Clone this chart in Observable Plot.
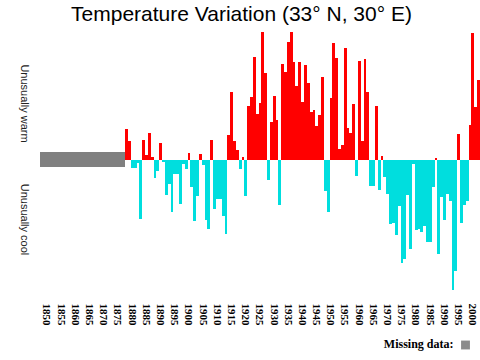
<!DOCTYPE html>
<html><head><meta charset="utf-8">
<script src="https://cdn.jsdelivr.net/npm/d3@7"></script>
<script src="https://cdn.jsdelivr.net/npm/@observablehq/plot@0.6"></script>
<style>html,body{margin:0;padding:0;background:#fff;} #chart svg{display:block;}</style>
</head><body><div id="chart"></div>
<script>
const title = "Temperature Variation (33° N, 30° E)";
const warmLabel = "Unusually warm";
const coolLabel = "Unusually cool";
const legendLabel = "Missing data:";

// Annual temperature anomaly, first value is 1880
const startYear = 1880;
const anomalies = [
  // 1880s
  0.31, 0.19, -0.08, -0.08, -0.03, -0.59, 0.20, 0.05, 0.27, 0.03,
  // 1890s
  -0.18, -0.11, 0.17, -0.02, -0.35, -0.24, -0.52, -0.14, -0.14, -0.44,
  // 1900s
  -0.04, -0.09, 0.07, -0.27, -0.61, -0.36, 0.06, -0.05, -0.60, -0.69,
  // 1910s
  0.20, -0.49, -0.39, -0.39, -0.56, -0.74, 0.25, 0.68, 0.19, 0.10,
  // 1920s
  -0.09, 0.03, -0.36, 0.54, 0.63, 1.03, 0.46, 0.57, 1.28, 0.87,
  // 1930s
  -0.20, 0.38, 0.64, 0.40, -0.45, 0.96, 0.88, 1.18, 1.28, 0.98,
  // 1940s
  0.74, 0.98, 0.58, 0.95, 0.77, 0.48, 0.50, 0.34, 0.45, 0.83,
  // 1950s
  -0.31, -0.52, 0.62, 1.17, 1.02, 0.11, 0.15, 1.12, 0.32, 0.27,
  // 1960s
  0.56, -0.16, 0.99, 0.19, 1.01, 0.68, -0.26, -0.26, 0.54, -0.30,
  // 1970s
  0.04, -0.17, -0.34, -0.64, -0.63, -0.75, -0.46, -1.03, -0.99, -0.35,
  // 1980s
  -0.89, -0.04, -0.70, -0.69, -0.72, -0.66, -0.82, -0.82, -0.27, 0.02,
  // 1990s
  -0.94, -0.37, -0.60, -0.34, -0.41, -1.30, -1.11, 0.26, -0.63, -0.45,
  // 2000s
  -0.41, 0.35, 1.27, 0.53, 0.80
];

const missingPeriod = [{from: 1850, to: 1880}];
const tickYears = [1850, 1855, 1860, 1865, 1870, 1875, 1880, 1885, 1890, 1895,
  1900, 1905, 1910, 1915, 1920, 1925, 1930, 1935, 1940, 1945, 1950, 1955,
  1960, 1965, 1970, 1975, 1980, 1985, 1990, 1995, 2000];

const data = anomalies.map((v, i) => ({year: startYear + i, value: v, kind: v >= 0 ? "warm" : "cool"}));

const chart = Plot.plot({
  width: 480, height: 360,
  marginLeft: 40, marginRight: 0, marginTop: 30, marginBottom: 65,
  x: {type: "linear", domain: [1850, 2005], axis: null},
  y: {domain: [-1.355, 1.295], axis: null},
  color: {domain: ["warm", "cool"], range: ["#ff0000", "#00dede"]},
  style: {background: "#fff"},
  marks: [
    Plot.rect(missingPeriod, {x1: "from", x2: "to", y1: -0.072, y2: 0.072, fill: "#808080", shapeRendering: "crispEdges"}),
    Plot.rectY(data, {x1: "year", x2: d => d.year + 1, y: "value", fill: "kind", shapeRendering: "crispEdges"}),
    Plot.text(tickYears, {x: d => d + 0.5, text: d => String(d), frameAnchor: "bottom", dx: 1.5, dy: 8, rotate: 90,
      textAnchor: "start", lineAnchor: "bottom", fontFamily: "Liberation Serif", fontSize: 11, fontWeight: "bold", fill: "#000"}),
    Plot.text([title], {frameAnchor: "top", dx: -19, dy: -9.5, textAnchor: "middle", lineAnchor: "bottom",
      fontFamily: "Liberation Sans", fontSize: 21, fill: "#000"}),
    Plot.text([warmLabel], {frameAnchor: "left", dx: -16, dy: -59.5, rotate: 90, textAnchor: "middle", lineAnchor: "middle",
      fontFamily: "Liberation Sans", fontSize: 11, fill: "#222"}),
    Plot.text([coolLabel], {frameAnchor: "left", dx: -16, dy: 56.5, rotate: 90, textAnchor: "middle", lineAnchor: "middle",
      fontFamily: "Liberation Sans", fontSize: 11, fill: "#222"}),
    Plot.text([legendLabel], {frameAnchor: "bottom-right", dx: -27, dy: 52, textAnchor: "end", lineAnchor: "bottom",
      fontFamily: "Liberation Serif", fontSize: 12, fontWeight: "bold", fill: "#000"}),
    Plot.dot([legendLabel], {frameAnchor: "bottom-right", dx: -15, dy: 49.5, symbol: "square", r: 5, fill: "#8c8c8c"})
  ]
});
document.getElementById("chart").appendChild(chart);
</script>
</body></html>
